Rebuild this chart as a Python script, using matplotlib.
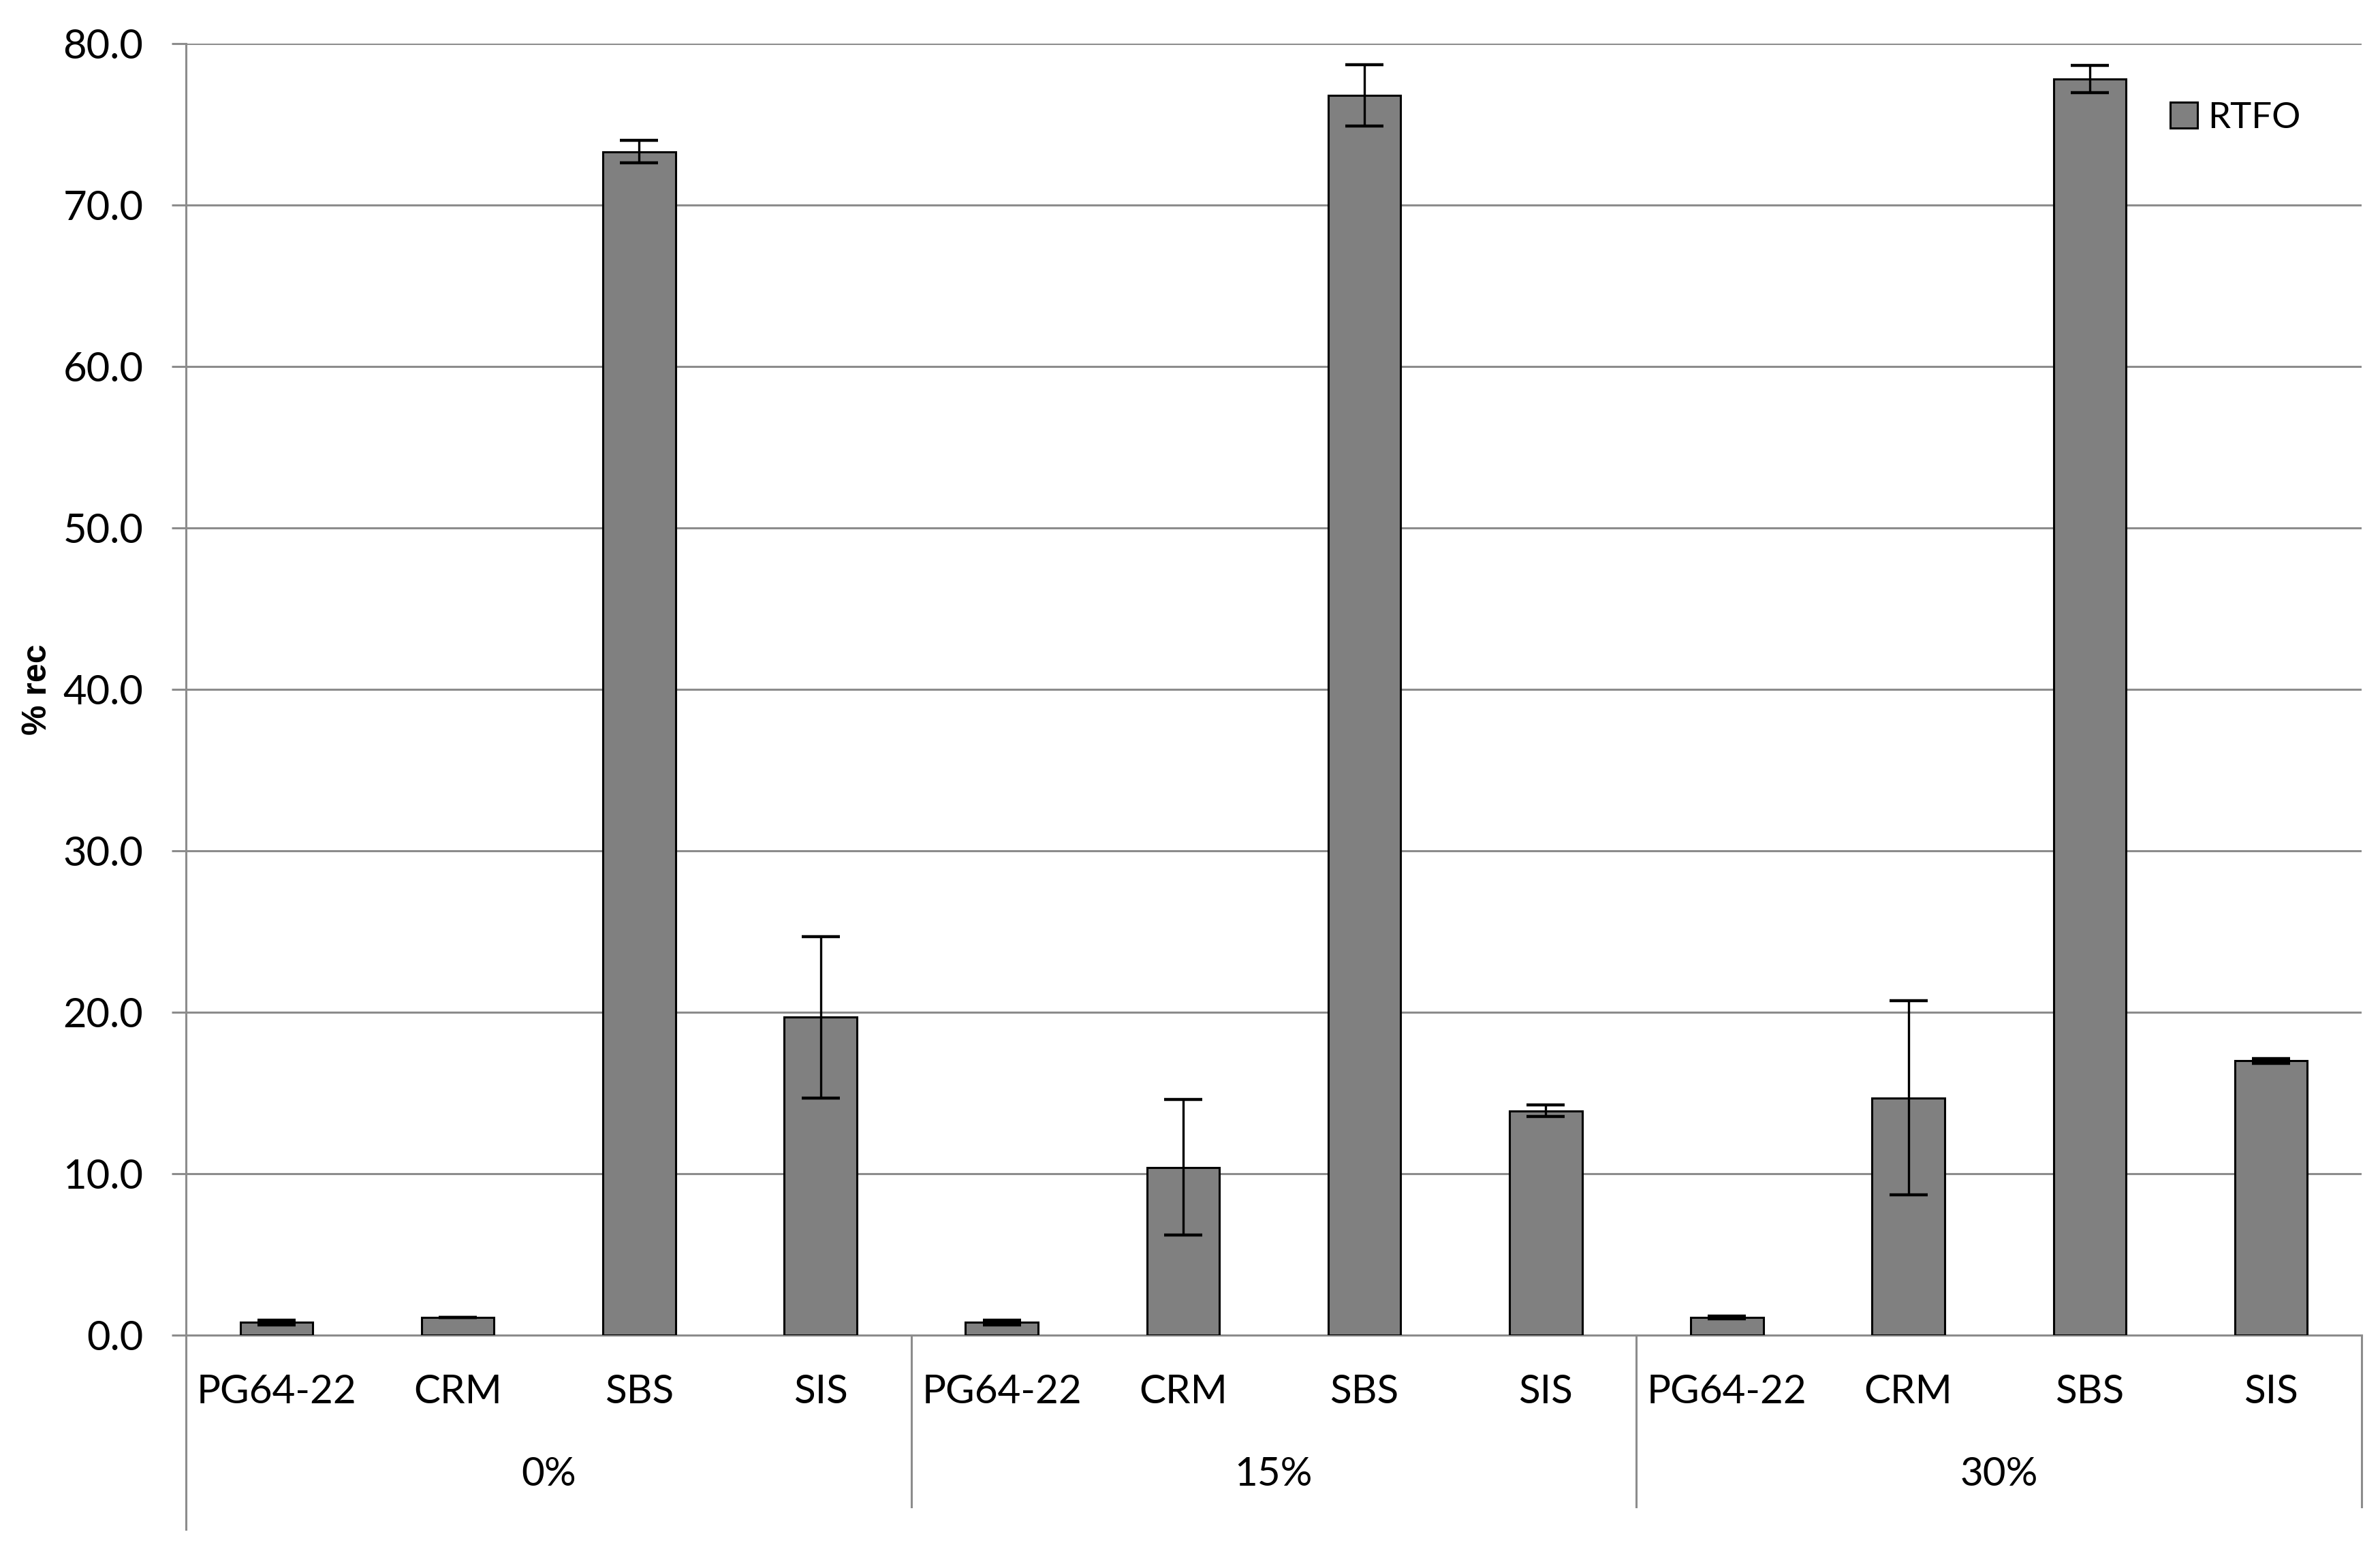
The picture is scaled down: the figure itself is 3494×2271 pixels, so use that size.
import numpy as np
import matplotlib
matplotlib.use("Agg")
import matplotlib.pyplot as plt
import matplotlib.transforms as mtransforms
from matplotlib.patches import Patch

# data
groups = ["0%", "15%", "30%"]
binders = ["PG64-22", "CRM", "SBS", "SIS"]
rtfo_0 = [0.8, 1.1, 73.3, 19.7]
err_0 = [0.15, 0.0, 0.7, 5.0]
rtfo_15 = [0.8, 10.4, 76.8, 13.9]
err_15 = [0.15, 4.2, 1.9, 0.35]
rtfo_30 = [1.1, 14.7, 77.8, 17.0]
err_30 = [0.1, 6.0, 0.85, 0.15]

values = rtfo_0 + rtfo_15 + rtfo_30
errors = err_0 + err_15 + err_30
labels = binders * len(groups)
x = np.arange(len(values))

plt.rcParams["font.family"] = ["Lato", "DejaVu Sans"]
grid_gray = "#8c8c8c"

fig = plt.figure(figsize=(17.47, 11.355), dpi=200)
ax = fig.add_axes([0.0781, 0.1369, 0.9142, 0.8349])

ax.bar(x, values, width=0.4, color="#808080", edgecolor="black", linewidth=1.1,
       yerr=errors, capsize=10, error_kw=dict(elinewidth=1.2, capthick=1.6, ecolor="black"),
       zorder=3, label="RTFO")

ax.set_xlim(-0.5, len(values) - 0.5)
ax.set_ylim(0, 80)
ax.set_yticks(np.arange(0, 81, 10))
ax.set_yticklabels([f"{v:.1f}" for v in np.arange(0, 81, 10)], fontsize=21.5)
ax.yaxis.grid(True, color=grid_gray, linewidth=1.1, zorder=0)
ax.set_axisbelow(True)
ax.tick_params(axis="y", length=7.5, width=1.1, color=grid_gray, pad=15)
ax.set_xticks([])

for side in ["top", "right"]:
    ax.spines[side].set_visible(False)
for side in ["left", "bottom"]:
    ax.spines[side].set_color(grid_gray)
    ax.spines[side].set_linewidth(1.1)

ax.set_ylabel("% rec", family=["Liberation Sans", "DejaVu Sans"], fontweight="bold",
              fontsize=18, labelpad=5)

# two level category axis
trans = mtransforms.blended_transform_factory(ax.transData, ax.transAxes)
for xi, lab in zip(x, labels):
    ax.text(xi, -0.044, lab, transform=trans, ha="center", va="center", fontsize=21)
for gi, g in enumerate(groups):
    ax.text(gi * 4 + 1.5, -0.108, g, transform=trans, ha="center", va="center", fontsize=21)
for gi in range(len(groups) + 1):
    bottom = -0.15 if gi == 0 else -0.133
    ax.plot([gi * 4 - 0.5, gi * 4 - 0.5], [0, bottom], transform=trans,
            color=grid_gray, linewidth=1.1, clip_on=False)

handles = [Patch(facecolor="#808080", edgecolor="black", linewidth=1.1, label="RTFO")]
ax.legend(handles=handles, loc="center left", bbox_to_anchor=(0.912, 0.9425),
          frameon=False, fontsize=19, handlelength=0.75, handleheight=0.75,
          handletextpad=0.3, borderpad=0, borderaxespad=0)

fig.savefig("out.png", dpi=200)
